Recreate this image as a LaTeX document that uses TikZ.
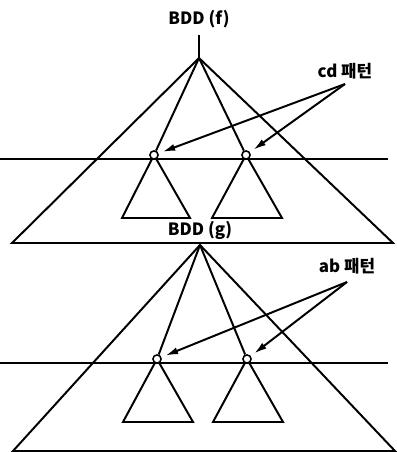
\documentclass[tikz,border=0pt]{standalone}
\usepackage{fontspec}
\newfontfamily\krfont{Noto Sans CJK KR}
\usetikzlibrary{arrows.meta}
\tikzset{
  edge/.style={line width=1.4pt},
  knot/.style={circle,draw,fill=white,line width=1.1pt,inner sep=0pt,minimum size=5.8pt},
  ptr/.style={line width=1.4pt,-{Latex[length=9pt,width=5pt]},shorten >=3pt},
  lbl/.style={font=\krfont\bfseries\fontsize{12}{14}\selectfont,inner sep=0pt}
}
\begin{document}
\begin{tikzpicture}[x=0.025cm,y=-0.025cm]
\useasboundingbox (0,0) rectangle (396,452);

% upper diagram, BDD(f)
\node[lbl] (bddf) at (199,19) {BDD (f)};
\coordinate (fs) at (199,35);
\coordinate (fa) at (199,58);
\draw[edge] (fs) -- (fa);
\draw[edge] (fa) -- (12,243) -- (393,243) -- cycle;
\draw[edge] (0,159) -- (388,159);
\node[knot] (f1) at (154,155) {};
\node[knot] (f2) at (246,155) {};
\draw[edge] (fa) -- (f1);
\draw[edge] (fa) -- (f2);
\draw[edge] (f1) -- (122,218) -- (190,218) -- (f1);
\draw[edge] (f2) -- (212,218) -- (282,218) -- (f2);

\node[lbl] (cd) at (345,71) {cd 패턴};
\coordinate (cdo) at (345,84);
\draw[ptr] (cdo) -- (f1);
\draw[ptr] (cdo) -- (f2);

% lower diagram, BDD(g)
\node[lbl] (bddg) at (200,230) {BDD (g)};
\coordinate (ga) at (200,245);
\draw[edge] (ga) -- (13,451) -- (395,451) -- cycle;
\draw[edge] (0,363) -- (388,363);
\node[knot] (g1) at (157,359) {};
\node[knot] (g2) at (247,359) {};
\draw[edge] (ga) -- (g1);
\draw[edge] (ga) -- (g2);
\draw[edge] (g1) -- (123,422) -- (193,422) -- (g1);
\draw[edge] (g2) -- (213,422) -- (283,422) -- (g2);

\node[lbl] (ab) at (347,266) {ab 패턴};
\coordinate (abo) at (347,282);
\draw[ptr] (abo) -- (g1);
\draw[ptr] (abo) -- (g2);
\end{tikzpicture}
\end{document}
